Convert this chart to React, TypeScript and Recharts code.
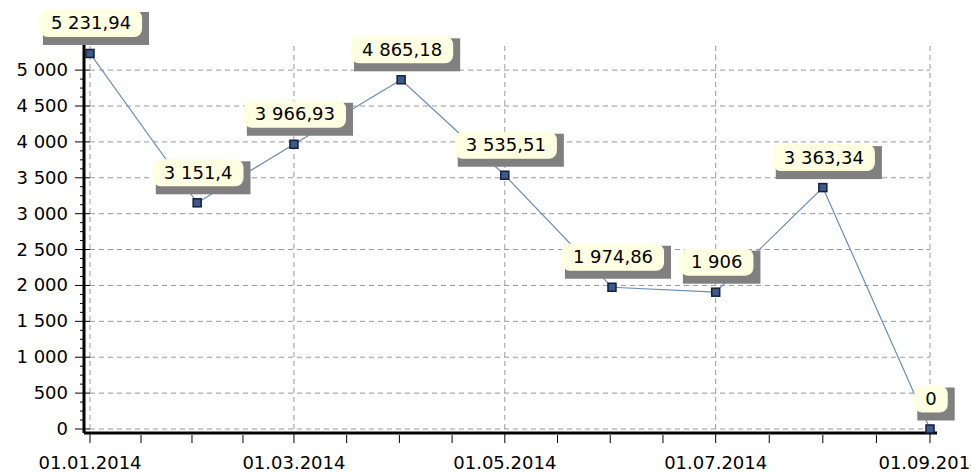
import { LabelList, Line, LineChart, ReferenceLine, XAxis, YAxis } from "recharts";

const dates = [
	"01.01.2014",
	"01.02.2014",
	"01.03.2014",
	"01.04.2014",
	"01.05.2014",
	"01.06.2014",
	"01.07.2014",
	"01.08.2014",
	"01.09.2014",
];
const values = [5231.94, 3151.4, 3966.93, 4865.18, 3535.51, 1974.86, 1906, 3363.34, 0];
const xTickLabels = ["01.01.2014", "01.03.2014", "01.05.2014", "01.07.2014", "01.09.2014"];
const yTicks = [0, 500, 1000, 1500, 2000, 2500, 3000, 3500, 4000, 4500, 5000];
const yMax = 5350;

const FONT = "DejaVu Sans";
const FS = 18;

function toTime(s: string) {
	const [d, m, y] = s.split(".").map(Number);
	return Date.UTC(y, m - 1, d);
}

function fmt(v: number) {
	const [intPart, dec] = String(v).split(".");
	const grouped = intPart.replace(/\B(?=(\d{3})+(?!\d))/g, " ");
	return dec ? `${grouped},${dec}` : grouped;
}

const data = dates.map((d, i) => ({ t: toTime(d), v: values[i] }));
const xMajor = xTickLabels.map(toTime);
const xMin = xMajor[0];
const xMax = xMajor[xMajor.length - 1];

// minor ticks: 3 between each pair of labelled ticks
const xAll: number[] = [];
xMajor.forEach((t, i) => {
	xAll.push(t);
	const next = xMajor[i + 1];
	if (next !== undefined) {
		for (let k = 1; k < 4; k++) xAll.push(t + ((next - t) * k) / 4);
	}
});
const yAll: number[] = [];
yTicks.forEach((v, i) => {
	yAll.push(v);
	const next = yTicks[i + 1];
	if (next !== undefined) {
		for (let k = 1; k < 4; k++) yAll.push(v + ((next - v) * k) / 4);
	}
});

function textWidth(s: string) {
	let w = 0;
	for (const ch of s) w += /\d/.test(ch) ? 0.636 * FS : 0.318 * FS;
	return w;
}

function XTick({ x, y, payload }: any) {
	const major = xMajor.includes(payload.value);
	return (
		<g>
			<line x1={x} x2={x} y1={major ? y - 8 : y - 6} y2={y + 2} stroke="#000" />
			{major && (
				<text x={x} y={y + 28} textAnchor="middle" fontFamily={FONT} fontSize={FS} fill="#000">
					{dates[dates.findIndex((d) => toTime(d) === payload.value)]}
				</text>
			)}
		</g>
	);
}

function YTick({ x, y, payload }: any) {
	const major = yTicks.includes(payload.value);
	const ax = x + 16;
	return (
		<g>
			<line x1={major ? ax - 9 : ax - 4} x2={major ? ax + 6 : ax} y1={y} y2={y} stroke="#000" />
			{major && (
				<text x={x} y={y} dy={6} textAnchor="end" fontFamily={FONT} fontSize={FS} fill="#000">
					{fmt(payload.value)}
				</text>
			)}
		</g>
	);
}

function Marker({ cx, cy }: any) {
	return <rect x={cx - 4} y={cy - 4} width={8} height={8} fill="#3d5a8c" stroke="#141e3c" strokeWidth={1.5} />;
}

function ValueLabel({ x, y, value }: any) {
	const text = fmt(value);
	const w = Math.max(28, textWidth(text) + 22);
	const h = 27;
	const cx = x + 1;
	const cy = y - 30;
	const bx = cx - w / 2;
	const by = cy - h / 2;
	return (
		<g>
			<rect x={bx + 3} y={by + 2} width={w + 4} height={h + 6} fill="#808080" />
			<rect x={bx} y={by} width={w} height={h} rx={8} fill="#ffffe1" />
			<text x={cx} y={cy} dy={6} textAnchor="middle" fontFamily={FONT} fontSize={FS} fill="#000">
				{text}
			</text>
		</g>
	);
}

export default function App() {
	return (
		<div style={{ position: "absolute", left: 0, top: 0, background: "#fff" }}>
			<LineChart width={971} height={473} data={data} margin={{ top: 45, right: 34, bottom: 0, left: 0 }}>
				<XAxis
					type="number"
					dataKey="t"
					domain={[xMin, xMax]}
					ticks={xAll}
					interval={0}
					tick={<XTick />}
					tickLine={false}
					tickSize={6}
					tickMargin={2}
					axisLine={{ stroke: "#000", strokeWidth: 3 }}
					padding={{ left: 6, right: 7 }}
					height={40}
				/>
				<YAxis
					type="number"
					domain={[0, yMax]}
					ticks={yAll}
					interval={0}
					tick={<YTick />}
					tickLine={false}
					tickSize={8}
					tickMargin={8}
					axisLine={{ stroke: "#000", strokeWidth: 3 }}
					padding={{ bottom: 4 }}
					width={84}
				/>
				{yTicks.map((v) => (
					<ReferenceLine
						key={`h${v}`}
						segment={[
							{ x: xMin, y: v },
							{ x: xMax, y: v },
						]}
						stroke="#999"
						strokeDasharray="5 4"
					/>
				))}
				{xMajor.map((t) => (
					<ReferenceLine
						key={`v${t}`}
						segment={[
							{ x: t, y: 0 },
							{ x: t, y: yMax },
						]}
						stroke="#999"
						strokeDasharray="5 4"
					/>
				))}
				<Line
					dataKey="v"
					stroke="#6d8cb3"
					strokeWidth={1.2}
					dot={<Marker />}
					activeDot={false}
					isAnimationActive={false}
				>
					<LabelList dataKey="v" content={<ValueLabel />} />
				</Line>
			</LineChart>
		</div>
	);
}
